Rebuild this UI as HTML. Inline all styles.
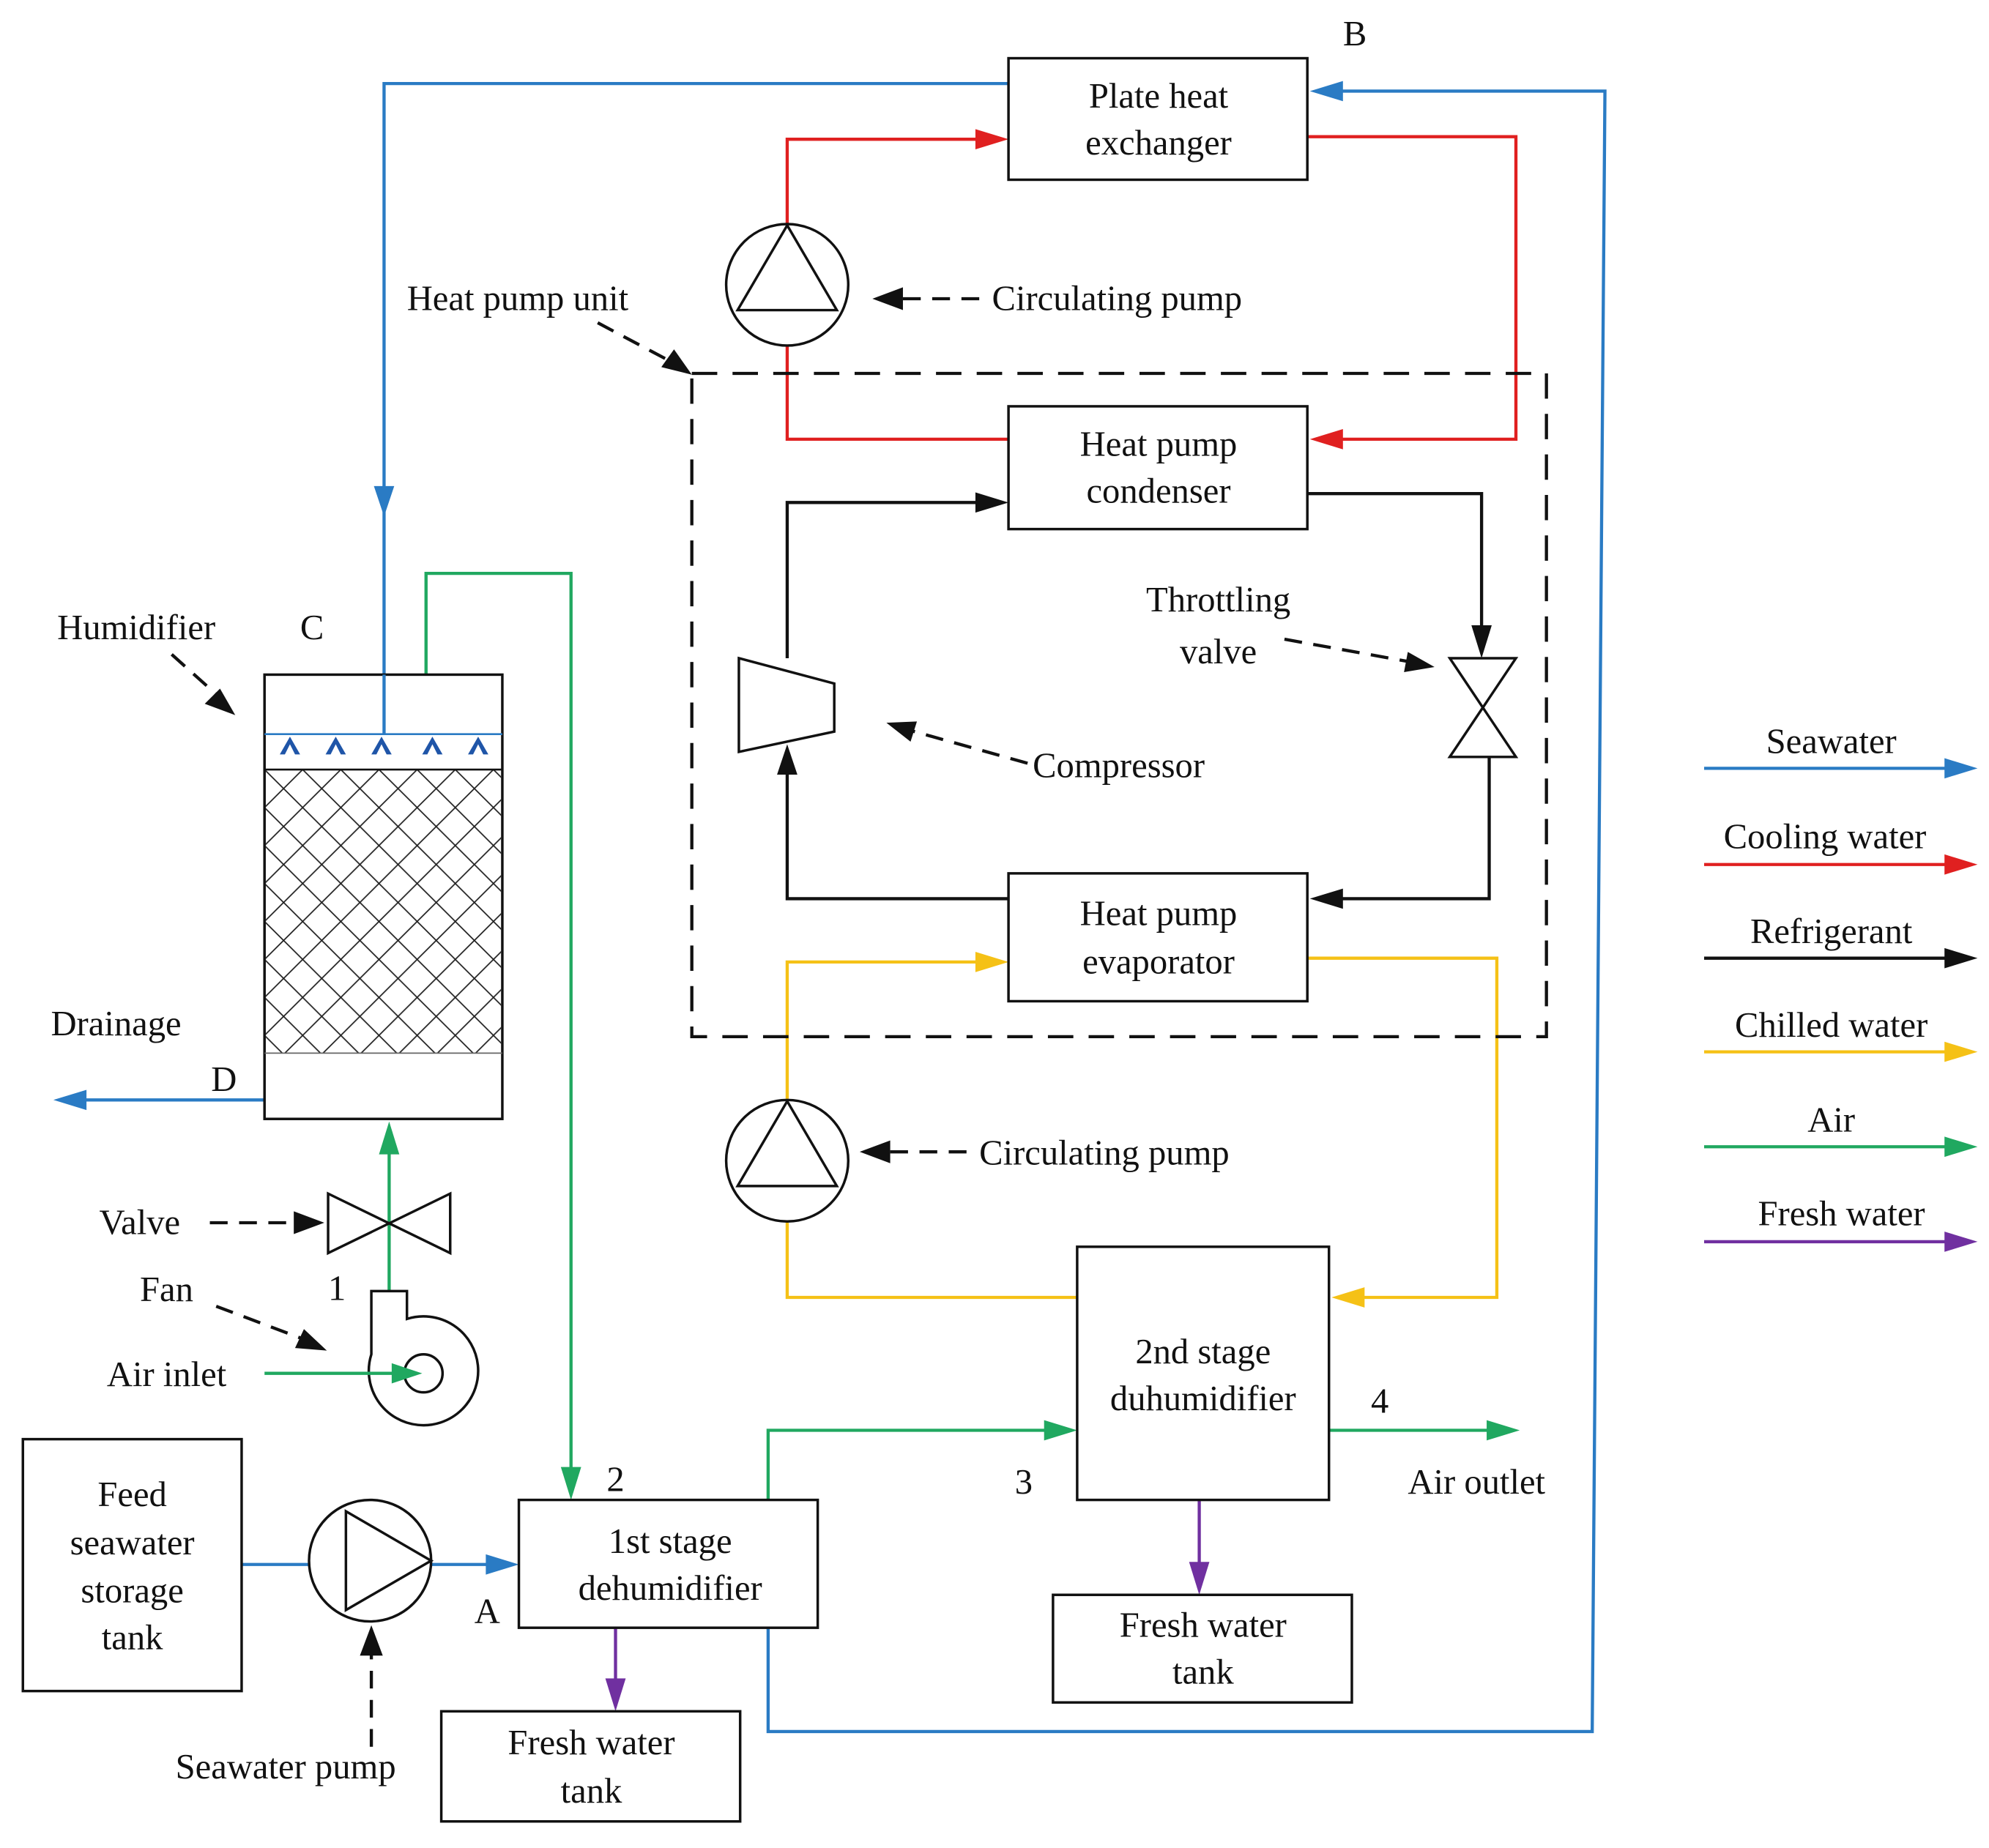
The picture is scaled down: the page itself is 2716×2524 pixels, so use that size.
<!DOCTYPE html>
<html><head><meta charset="utf-8"><style>html,body{margin:0;padding:0;background:#fff}svg{display:block}text{font-family:"Liberation Serif",serif;font-size:28px;fill:#111}</style></head>
<body>
<svg width="2716" height="2524" viewBox="0 0 1564 1460" preserveAspectRatio="none" xmlns="http://www.w3.org/2000/svg">
<defs>
<pattern id="hatch" width="30" height="30" patternUnits="userSpaceOnUse" x="208" y="608"><path d="M0,0L30,30M30,0L0,30" stroke="#222" stroke-width="1"/></pattern>
</defs>
<g fill="none" stroke-width="2.5">
<polyline points="793,66 302,66 302,580" stroke="#2a7bc4"/>
<polyline points="604,1286 604,1368 1252,1368 1262,72 1040,72" stroke="#2a7bc4"/>
<line x1="208" y1="869" x2="58" y2="869" stroke="#2a7bc4"/>
<line x1="190" y1="1236" x2="243" y2="1236" stroke="#2a7bc4"/>
<line x1="339" y1="1236" x2="395" y2="1236" stroke="#2a7bc4"/>
<line x1="1340" y1="607" x2="1535" y2="607" stroke="#2a7bc4"/>
<polyline points="619,178 619,110 780,110" stroke="#e02020"/>
<polyline points="1028,108 1192,108 1192,347 1042,347" stroke="#e02020"/>
<polyline points="793,347 619,347 619,272" stroke="#e02020"/>
<line x1="1340" y1="683" x2="1535" y2="683" stroke="#e02020"/>
<polyline points="1028,390 1165,390 1165,508" stroke="#111"/>
<polyline points="1171,598 1171,710 1042,710" stroke="#111"/>
<polyline points="793,710 619,710 619,600" stroke="#111"/>
<polyline points="619,520 619,397 780,397" stroke="#111"/>
<line x1="1340" y1="757" x2="1535" y2="757" stroke="#111"/>
<polyline points="619,868 619,760 780,760" stroke="#f5c116"/>
<polyline points="1028,757 1177,757 1177,1025 1060,1025" stroke="#f5c116"/>
<polyline points="847,1025 619,1025 619,966" stroke="#f5c116"/>
<line x1="1340" y1="831" x2="1535" y2="831" stroke="#f5c116"/>
<polyline points="335,533 335,453 449,453 449,1170" stroke="#20a860"/>
<line x1="306" y1="1020" x2="306" y2="900" stroke="#20a860"/>
<polyline points="604,1185 604,1130 832,1130" stroke="#20a860"/>
<line x1="1045" y1="1130" x2="1180" y2="1130" stroke="#20a860"/>
<line x1="1340" y1="906" x2="1535" y2="906" stroke="#20a860"/>
<line x1="943" y1="1185" x2="943" y2="1245" stroke="#7030a0"/>
<line x1="484" y1="1286" x2="484" y2="1338" stroke="#7030a0"/>
<line x1="1340" y1="981" x2="1535" y2="981" stroke="#7030a0"/>
</g>
<g>
<polygon points="302,408 294,384 310,384" fill="#2a7bc4"/>
<polygon points="1030,72 1056,64 1056,80" fill="#2a7bc4"/>
<polygon points="42,869 68,861 68,877" fill="#2a7bc4"/>
<polygon points="408,1236 382,1228 382,1244" fill="#2a7bc4"/>
<polygon points="1555,607 1529,599 1529,615" fill="#2a7bc4"/>
<polygon points="793,110 767,102 767,118" fill="#e02020"/>
<polygon points="1030,347 1056,339 1056,355" fill="#e02020"/>
<polygon points="1555,683 1529,675 1529,691" fill="#e02020"/>
<polygon points="1165,520 1157,494 1173,494" fill="#111"/>
<polygon points="1030,710 1056,702 1056,718" fill="#111"/>
<polygon points="619,588 611,612 627,612" fill="#111"/>
<polygon points="793,397 767,389 767,405" fill="#111"/>
<polygon points="1555,757 1529,749 1529,765" fill="#111"/>
<polygon points="793,760 767,752 767,768" fill="#f5c116"/>
<polygon points="1047,1025 1073,1017 1073,1033" fill="#f5c116"/>
<polygon points="1555,831 1529,823 1529,839" fill="#f5c116"/>
<polygon points="449,1185 441,1159 457,1159" fill="#20a860"/>
<polygon points="306,886 298,912 314,912" fill="#20a860"/>
<polygon points="847,1130 821,1122 821,1138" fill="#20a860"/>
<polygon points="1195,1130 1169,1122 1169,1138" fill="#20a860"/>
<polygon points="1555,906 1529,898 1529,914" fill="#20a860"/>
<polygon points="943,1260 935,1234 951,1234" fill="#7030a0"/>
<polygon points="484,1352 476,1326 492,1326" fill="#7030a0"/>
<polygon points="1555,981 1529,973 1529,989" fill="#7030a0"/>
</g>
<g fill="#fff" stroke="#111" stroke-width="2">
<rect x="793" y="46" width="235" height="96"/>
<rect x="793" y="321" width="235" height="97"/>
<rect x="793" y="690" width="235" height="101"/>
<rect x="847" y="985" width="198" height="200"/>
<rect x="828" y="1260" width="235" height="85"/>
<rect x="408" y="1185" width="235" height="101"/>
<rect x="347" y="1352" width="235" height="87"/>
<rect x="18" y="1137" width="172" height="199"/>
<rect x="208" y="533" width="187" height="351"/>
</g>
<rect x="209" y="608" width="185" height="224" fill="url(#hatch)"/>
<line x1="208" y1="608" x2="395" y2="608" stroke="#111" stroke-width="1.5"/>
<line x1="208" y1="832" x2="395" y2="832" stroke="#666" stroke-width="1"/>
<line x1="208" y1="580" x2="395" y2="580" stroke="#2a7bc4" stroke-width="1.5"/>
<line x1="302" y1="533" x2="302" y2="580" stroke="#2a7bc4" stroke-width="2.5"/>
<g fill="#1f55a8">
<path d="M228,582 L220,596 L224,596 L228,588 L232,596 L236,596Z"/>
<path d="M264,582 L256,596 L260,596 L264,588 L268,596 L272,596Z"/>
<path d="M300,582 L292,596 L296,596 L300,588 L304,596 L308,596Z"/>
<path d="M340,582 L332,596 L336,596 L340,588 L344,596 L348,596Z"/>
<path d="M376,582 L368,596 L372,596 L376,588 L380,596 L384,596Z"/>
</g>
<rect x="544" y="295" width="672" height="524" fill="none" stroke="#111" stroke-width="2.5" stroke-dasharray="20,12"/>
<g fill="#fff" stroke="#111" stroke-width="2">
<circle cx="619" cy="225" r="48"/>
<polygon points="619,178 580,245 658,245" fill="none"/>
<circle cx="619" cy="917" r="48"/>
<polygon points="619,870 580,937 658,937" fill="none"/>
<circle cx="291" cy="1233" r="48"/>
<polygon points="339,1233 272,1194 272,1272" fill="none"/>
<polygon points="581,520 656,540 656,578 581,594"/>
<polygon points="1140,520 1192,520 1166,559 1192,598 1140,598 1166,559"/>
<polygon points="258,943 258,990 354,943 354,990"/>
<path d="M292,1020 L320,1020 L320,1042 A43,43 0 1 1 292,1070 Z" fill="#fff"/>
<circle cx="333" cy="1085" r="15"/>
</g>
<line x1="208" y1="1085" x2="318" y2="1085" stroke="#20a860" stroke-width="2.5"/>
<polygon points="332,1085 308,1077 308,1093" fill="#20a860"/>
<g stroke="#111" stroke-width="2.5" stroke-dasharray="14,9" fill="none">
<line x1="770" y1="236" x2="700" y2="236"/>
<line x1="470" y1="255" x2="530" y2="287"/>
<line x1="1010" y1="505" x2="1115" y2="524"/>
<line x1="808" y1="603" x2="712" y2="576"/>
<line x1="760" y1="910" x2="690" y2="910"/>
<line x1="135" y1="517" x2="175" y2="553"/>
<line x1="165" y1="966" x2="242" y2="966"/>
<line x1="170" y1="1032" x2="244" y2="1060"/>
<line x1="292" y1="1380" x2="292" y2="1298"/>
</g>
<g fill="#111">
<polygon points="686,236 710,227 710,245"/>
<polygon points="544,296 520,290 530,276"/>
<polygon points="1128,527 1104,531 1107,515"/>
<polygon points="697,571 721,570 716,586"/>
<polygon points="676,910 700,901 700,919"/>
<polygon points="185,565 161,556 173,544"/>
<polygon points="255,966 231,957 231,975"/>
<polygon points="257,1067 232,1065 239,1050"/>
<polygon points="292,1284 283,1308 301,1308"/>
</g>
<g text-anchor="middle">
<text x="911" y="85">Plate heat</text><text x="911" y="122">exchanger</text>
<text x="911" y="360">Heat pump</text><text x="911" y="397">condenser</text>
<text x="911" y="731">Heat pump</text><text x="911" y="769">evaporator</text>
<text x="946" y="1077">2nd stage</text><text x="946" y="1114">duhumidifier</text>
<text x="946" y="1293">Fresh water</text><text x="946" y="1330">tank</text>
<text x="527" y="1227">1st stage</text><text x="527" y="1264">dehumidifier</text>
<text x="465" y="1386">Fresh water</text><text x="465" y="1424">tank</text>
<text x="104" y="1190">Feed</text><text x="104" y="1228">seawater</text><text x="104" y="1266">storage</text><text x="104" y="1303">tank</text>
<text x="958" y="483">Throttling</text><text x="958" y="524">valve</text>
<text x="1440" y="595">Seawater</text>
<text x="1435" y="670">Cooling water</text>
<text x="1440" y="745">Refrigerant</text>
<text x="1440" y="819">Chilled water</text>
<text x="1440" y="894">Air</text>
<text x="1448" y="968">Fresh water</text>
</g>
<text x="1056" y="36">B</text>
<text x="320" y="245">Heat pump unit</text>
<text x="780" y="245">Circulating pump</text>
<text x="770" y="920">Circulating pump</text>
<text x="812" y="614">Compressor</text>
<text x="45" y="505">Humidifier</text>
<text x="236" y="505">C</text>
<text x="40" y="818">Drainage</text>
<text x="166" y="862">D</text>
<text x="78" y="975">Valve</text>
<text x="258" y="1027">1</text>
<text x="110" y="1028">Fan</text>
<text x="84" y="1095">Air inlet</text>
<text x="373" y="1282">A</text>
<text x="138" y="1405">Seawater pump</text>
<text x="477" y="1178">2</text>
<text x="798" y="1180">3</text>
<text x="1078" y="1116">4</text>
<text x="1107" y="1180">Air outlet</text>
</svg>
</body></html>
